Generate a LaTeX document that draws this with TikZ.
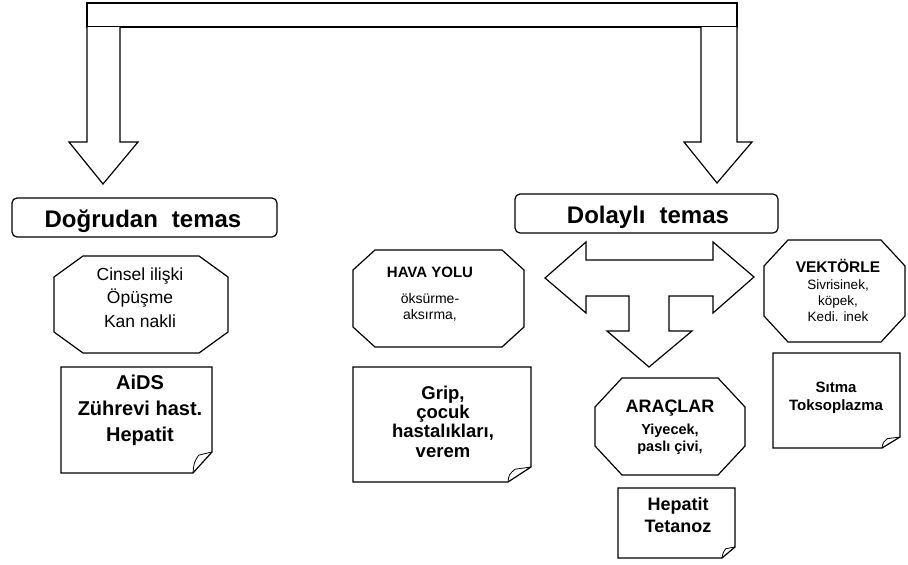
\documentclass[tikz,border=0pt]{standalone}
\usepackage{fontspec}
\setmainfont{Liberation Sans}
\tikzset{
  outline/.style={draw=black, line width=1.2pt, line join=miter, fill=white},
  roundbox/.style={outline, rounded corners=5pt},
  flapline/.style={draw=black, line width=0.8pt, line join=round},
  txt/.style={inner sep=0pt, anchor=base, align=center},
  headtxt/.style={txt, font=\bfseries\fontsize{24}{26}\selectfont},
}
\newcommand\octbox[6]{% x1 y1 x2 y2 cutx cuty
  \draw[outline] ({#1+#5},#2) -- ({#3-#5},#2) -- (#3,{#2+#6}) -- (#3,{#4-#6})
    -- ({#3-#5},#4) -- ({#1+#5},#4) -- (#1,{#4-#6}) -- (#1,{#2+#6}) -- cycle;}
\newcommand\notepage[6]{% x1 y1 x2 y2 foldx foldy
  \draw[outline] (#1,#2) -- (#3,#2) -- (#3,{#4-#6}) -- ({#3-#5},#4) -- (#1,#4) -- cycle;
  \draw[flapline] ({#3-#5},#4) .. controls ({#3-#5+1},{#4-#6*0.5}) .. ({#3-#5*0.7},{#4-#6*0.85}) -- (#3,{#4-#6});}
\begin{document}
\begin{tikzpicture}[x=1pt,y=-1pt]
\useasboundingbox (0,0) rectangle (908,565);

% top bar with two down arrows
\draw[outline] (87,3) rectangle (737,27);
\draw[outline] (87,27) -- (87,142) -- (69,142) -- (103,184) -- (138,142) -- (120,142) -- (120,27);
\draw[outline] (701,27) -- (701,142) -- (684,142) -- (717,183) -- (752,142) -- (737,142) -- (737,27);

% headers
\draw[roundbox] (12,198) rectangle (277,237);
\node[headtxt] (dogrudan) at (143,227) {Doğrudan\hspace{14pt}temas};
\draw[roundbox] (515,194) rectangle (778,233);
\node[headtxt] (dolayli) at (648,223) {Dolaylı\hspace{14pt}temas};

% three-way arrow
\draw[outline] (545,278) -- (586,242) -- (586,260) -- (713,260) -- (713,242) -- (754,277)
  -- (713,313) -- (713,296) -- (669,296) -- (669,331) -- (692,331) -- (649,367)
  -- (607,331) -- (629,331) -- (629,296) -- (586,296) -- (586,313) -- cycle;

% left column (multi-line nodes: base = last line's baseline)
\octbox{54}{256}{228}{353}{29}{21}
\node[txt, font=\fontsize{17.5}{23.5}\selectfont] (direct) at (140,327) {Cinsel ilişki\\Öpüşme\\Kan nakli};
\notepage{61}{367}{212}{473}{19}{21}
\node[txt, font=\bfseries\fontsize{20}{26}\selectfont] (aids) at (140,441) {AiDS\\Zührevi hast.\\Hepatit};

% air
\octbox{353}{250}{524}{347}{22}{20}
\node[txt, font=\bfseries\fontsize{15}{17}\selectfont] (havatitle) at (430,277) {HAVA YOLU};
\node[txt, font=\fontsize{14}{16}\selectfont] (hava) at (430,319) {öksürme-\\aksırma,};
\notepage{353}{367}{531}{482}{23}{15}
\node[txt, font=\bfseries\fontsize{18.5}{19.3}\selectfont] (grip) at (443,457) {Grip,\\çocuk\\hastalıkları,\\verem};

% vectors
\octbox{764}{240}{905}{342}{24}{26}
\node[txt, font=\bfseries\fontsize{15.5}{17}\selectfont] (vektortitle) at (838,272) {VEKTÖRLE};
\node[txt, font=\fontsize{13.5}{15.7}\selectfont] (vektor) at (838,321) {Sivrisinek,\\köpek,\\Kedi. inek};
\notepage{773}{353}{900}{448}{18}{11}
\node[txt, font=\bfseries\fontsize{15}{18}\selectfont] (sitma) at (836,410) {Sıtma\\Toksoplazma};

% tools
\octbox{595}{378}{745}{475}{27}{29}
\node[txt, font=\bfseries\fontsize{18}{20}\selectfont] (aractitle) at (670,412) {ARAÇLAR};
\node[txt, font=\bfseries\fontsize{14.5}{17}\selectfont] (arac) at (670,451) {Yiyecek,\\paslı çivi,};
\notepage{618}{488}{735}{558}{13}{11}
\node[txt, font=\bfseries\fontsize{18}{22}\selectfont] (hepatit) at (678,532) {Hepatit\\Tetanoz};
\end{tikzpicture}
\end{document}
